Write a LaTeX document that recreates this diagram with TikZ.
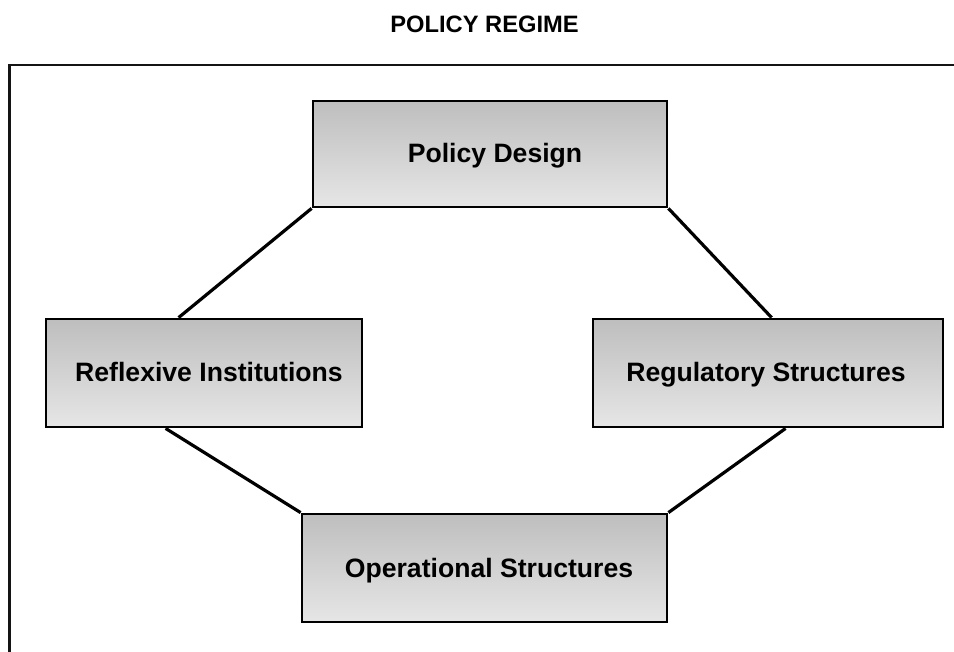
\documentclass[tikz,border=0pt]{standalone}
\usepackage{fontspec}
\setmainfont{Liberation Sans}
\definecolor{boxtop}{RGB}{190,190,190}
\definecolor{boxbot}{RGB}{230,230,230}
\definecolor{framecol}{RGB}{20,20,20}
\begin{document}
\begin{tikzpicture}[x=1pt,y=-1pt,
  box/.style={draw=black,line width=2.8pt,rectangle,top color=boxtop,bottom color=boxbot,inner sep=0pt},
  lbl/.style={font=\bfseries\fontsize{26.6}{30}\selectfont,inner sep=0pt,text height=19pt,text depth=5pt,yshift=-2pt},
  link/.style={draw=black,line width=3.2pt},
  frame/.style={draw=framecol,line width=2.4pt}]
\useasboundingbox (0,0) rectangle (954,652);
\node[font=\bfseries\fontsize{23.7}{28}\selectfont,inner sep=0pt,text height=17pt,text depth=0pt] (title) at (484.5,24.5) {POLICY REGIME};
\coordinate (fbl) at (9.5,660);
\coordinate (ftl) at (9.5,65);
\coordinate (ftr) at (960,65);
\draw[frame] (fbl) -- (ftl) -- (ftr);
\node[box,minimum width=354pt,minimum height=106pt,label={[lbl,xshift=5pt]center:Policy Design}] (pd) at (490,154) {};
\node[box,minimum width=316pt,minimum height=108pt,label={[lbl,xshift=5pt]center:Reflexive Institutions}] (ri) at (204,373) {};
\node[box,minimum width=350pt,minimum height=108pt,label={[lbl,xshift=-2pt]center:Regulatory Structures}] (rs) at (768,373) {};
\node[box,minimum width=365pt,minimum height=108pt,label={[lbl,xshift=4.5pt]center:Operational Structures}] (os) at (484.5,568) {};
\draw[link] (pd.south west) -- ([xshift=134pt]ri.north west);
\draw[link] (pd.south east) -- ([xshift=180pt]rs.north west);
\draw[link] ([xshift=121pt]ri.south west) -- (os.north west);
\draw[link] ([xshift=194pt]rs.south west) -- (os.north east);
\end{tikzpicture}
\end{document}
